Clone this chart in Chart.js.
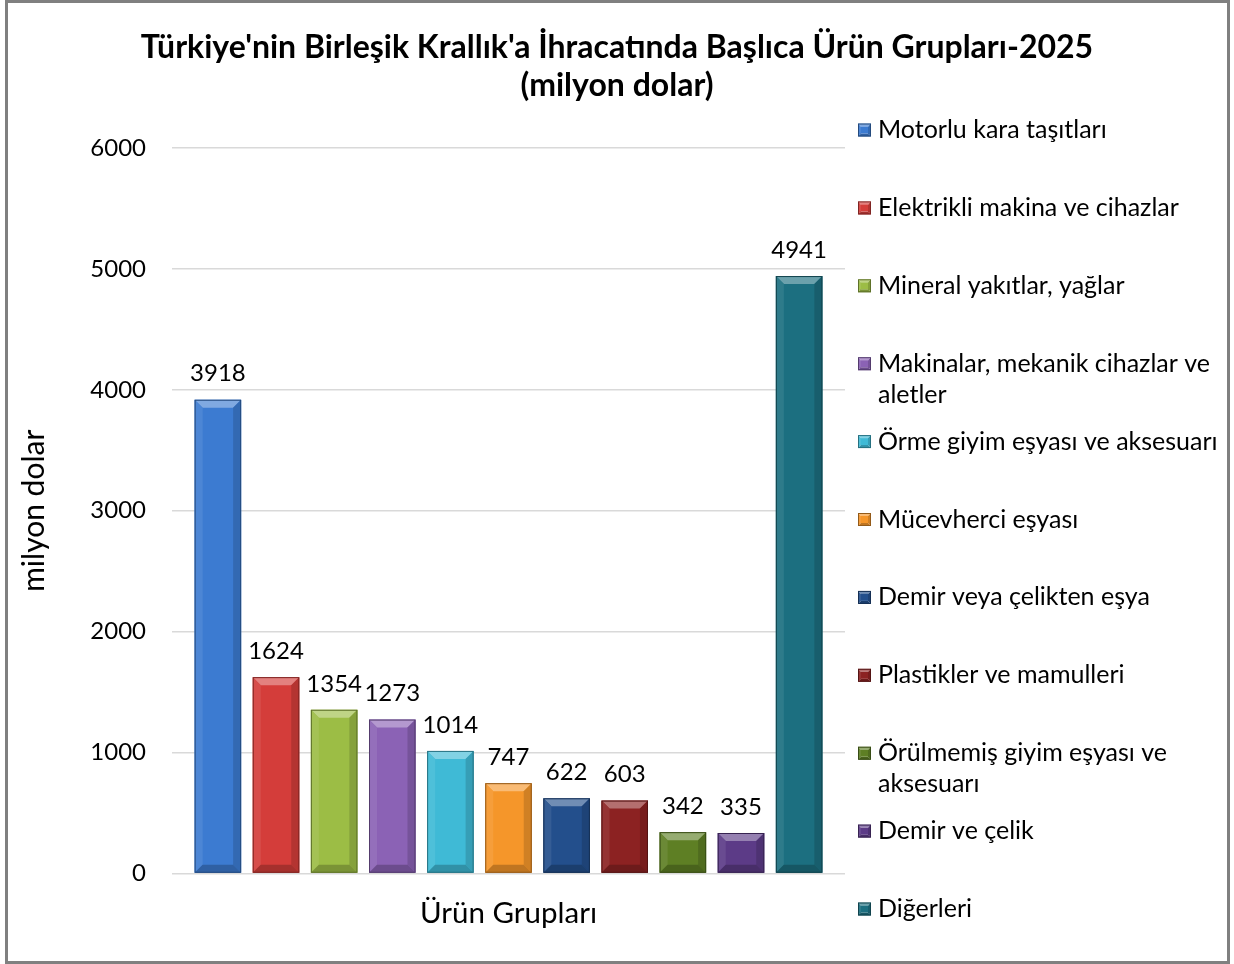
<!DOCTYPE html>
<html><head><meta charset="utf-8">
<script src="https://cdn.jsdelivr.net/npm/chart.js@4.4.1/dist/chart.umd.min.js"></script>
<style>html,body{margin:0;padding:0;background:#fff;}canvas{display:block;}</style>
</head><body>
<canvas id="c" width="1234" height="964"></canvas>
<script>
const categories = [
  "Motorlu kara taşıtları",
  "Elektrikli makina ve cihazlar",
  "Mineral yakıtlar, yağlar",
  "Makinalar, mekanik cihazlar ve aletler",
  "Örme giyim eşyası ve aksesuarı",
  "Mücevherci eşyası",
  "Demir veya çelikten eşya",
  "Plastikler ve mamulleri",
  "Örülmemiş giyim eşyası ve aksesuarı",
  "Demir ve çelik",
  "Diğerleri"
];
const values = [3918, 1624, 1354, 1273, 1014, 747, 622, 603, 342, 335, 4941];
const colors = ["#3c7bd1", "#d43d3a", "#9cbd45", "#8b62b5", "#3fbad6", "#f5962a",
                "#234f8c", "#8c2222", "#5e7f24", "#5c3b87", "#1c6f80"];
const yTicks = [0, 1000, 2000, 3000, 4000, 5000, 6000];
const titleLines = ["Türkiye'nin Birleşik Krallık'a İhracatında Başlıca Ürün Grupları-2025", "(milyon dolar)"];
const xTitle = "Ürün Grupları";
const yTitle = "milyon dolar";

const FONT = "Lato, 'Open Sans', sans-serif";

function shade(hex, f) {
  const n = parseInt(hex.slice(1), 16);
  let r = (n >> 16) & 255, g = (n >> 8) & 255, b = n & 255;
  if (f < 1) { r *= f; g *= f; b *= f; }
  else { const t = f - 1; r += (255 - r) * t; g += (255 - g) * t; b += (255 - b) * t; }
  return `rgb(${Math.round(r)},${Math.round(g)},${Math.round(b)})`;
}

const bgPlugin = {
  id: 'bg',
  beforeDraw(chart) {
    const c = chart.ctx;
    c.save(); c.fillStyle = '#fff'; c.fillRect(0, 0, chart.width, chart.height); c.restore();
  },
  afterDraw(chart) {
    const c = chart.ctx;
    c.save(); c.strokeStyle = '#808080'; c.lineWidth = 3;
    c.strokeRect(6.5, 1.5, 1222, 961); c.restore();
  }
};

function bevel(c, L, T, R, B, col, b) {
  c.save();
  c.fillStyle = shade(col, 1.35);
  c.beginPath(); c.moveTo(L, T); c.lineTo(R, T); c.lineTo(R - b, T + b); c.lineTo(L + b, T + b); c.closePath(); c.fill();
  c.fillStyle = shade(col, 1.08);
  c.beginPath(); c.moveTo(L, T); c.lineTo(L + b, T + b); c.lineTo(L + b, B - b); c.lineTo(L, B); c.closePath(); c.fill();
  c.fillStyle = shade(col, 0.85);
  c.beginPath(); c.moveTo(R, T); c.lineTo(R - b, T + b); c.lineTo(R - b, B - b); c.lineTo(R, B); c.closePath(); c.fill();
  c.fillStyle = shade(col, 0.78);
  c.beginPath(); c.moveTo(L, B); c.lineTo(L + b, B - b); c.lineTo(R - b, B - b); c.lineTo(R, B); c.closePath(); c.fill();
  c.strokeStyle = shade(col, 0.6); c.lineWidth = 1;
  c.strokeRect(L + 0.5, T + 0.5, R - L - 1, B - T - 1);
  c.restore();
}

const barDecor = {
  id: 'barDecor',
  afterDatasetsDraw(chart) {
    const c = chart.ctx;
    chart.data.datasets.forEach((ds, i) => {
      const meta = chart.getDatasetMeta(i);
      meta.data.forEach((el, j) => {
        const w = el.width;
        const L = el.x - w / 2, R = el.x + w / 2, T = el.y, B = el.base;
        bevel(c, L, T, R, B, colors[i], 8);
        c.save();
        c.fillStyle = '#000';
        c.font = `24px ${FONT}`;
        c.textAlign = 'center';
        c.textBaseline = 'middle';
        c.fillText(String(ds.data[j]), el.x, el.y - 26);
        c.restore();
      });
    });
  }
};

const legendPlugin = {
  id: 'sideLegend',
  afterDraw(chart) {
    const c = chart.ctx;
    c.save();
    c.font = `25px ${FONT}`;
    c.textBaseline = 'middle';
    c.textAlign = 'left';
    const maxW = 360;
    chart.data.datasets.forEach((ds, i) => {
      const y0 = 130 + i * 77.9;
      bevel(c, 858, y0 - 6.5, 871, y0 + 6.5, colors[i], 3);
      c.fillStyle = colors[i];
      c.fillRect(861, y0 - 3.5, 7, 7);
      const words = ds.label.split(' ');
      const lines = [];
      let cur = '';
      words.forEach(w => {
        const t = cur ? cur + ' ' + w : w;
        if (c.measureText(t).width > maxW && cur) { lines.push(cur); cur = w; }
        else cur = t;
      });
      lines.push(cur);
      c.fillStyle = '#000';
      lines.forEach((ln, k) => c.fillText(ln, 878, y0 + k * 31));
    });
    c.restore();
  }
};

new Chart(document.getElementById('c'), {
  type: 'bar',
  data: {
    labels: [xTitle],
    datasets: categories.map((name, i) => ({
      label: name,
      data: [values[i]],
      backgroundColor: colors[i],
      borderWidth: 0,
      categoryPercentage: 0.95,
      barPercentage: 0.8
    }))
  },
  options: {
    responsive: false,
    animation: false,
    layout: { padding: 0 },
    plugins: {
      legend: { display: false },
      tooltip: { enabled: false },
      title: {
        display: true,
        text: titleLines,
        color: '#000',
        font: { family: FONT, size: 32, weight: 'bold', lineHeight: 38 / 32 },
        padding: { top: 29, bottom: 43 }
      }
    },
    scales: {
      x: {
        ticks: { display: false },
        grid: { display: false },
        border: { display: false },
        title: { display: true, text: xTitle, color: '#000', font: { family: FONT, size: 29.5, lineHeight: 1.2 }, padding: { top: 0, bottom: 33 } },
        afterFit(s) { s.height = 90.5; }
      },
      y: {
        min: 0, max: 6000,
        afterBuildTicks(s) { s.ticks = yTicks.map(v => ({ value: v })); },
        ticks: { padding: 26, color: '#000', font: { family: FONT, size: 24 }, callback: v => String(v) },
        grid: { color: '#d9d9d9', lineWidth: 1.5, drawTicks: false },
        border: { display: false },
        title: { display: true, text: yTitle, color: '#000', font: { family: FONT, size: 30, lineHeight: 1.2 }, padding: { top: 16, bottom: 0 } },
        afterFit(s) { s.width = 172; }
      },
      yR: {
        position: 'right',
        display: true,
        grid: { display: false },
        ticks: { display: false },
        border: { display: false },
        afterFit(s) { s.width = 389; }
      }
    }
  },
  plugins: [bgPlugin, barDecor, legendPlugin]
});
</script>
</body></html>
